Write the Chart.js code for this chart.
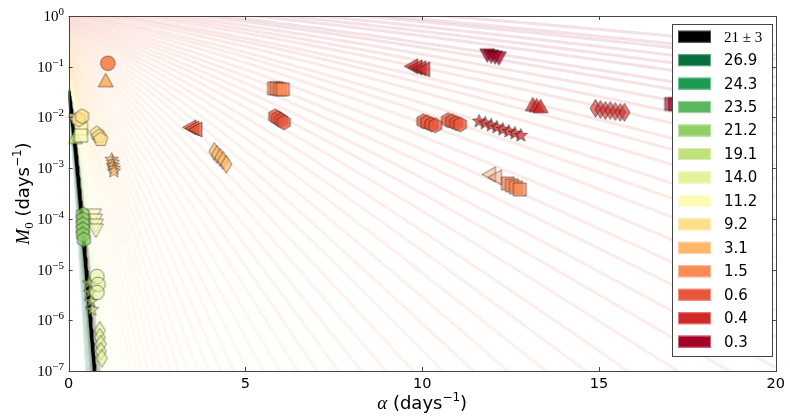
<!DOCTYPE html>
<html>
<head>
<meta charset="utf-8">
<script src="https://cdn.jsdelivr.net/npm/chart.js@4.4.1/dist/chart.umd.min.js"></script>
<style>
  html, body { margin: 0; padding: 0; background: #fff; }
  #wrap { width: 790px; height: 418px; }
</style>
</head>
<body>
<div id="wrap"><canvas id="c" width="790" height="418"></canvas></div>
<script>
// axis ticks
var alphaTicks = [0, 5, 10, 15, 20];
var m0Ticks = [1e-7, 1e-6, 1e-5, 1e-4, 1e-3, 1e-2, 1e-1, 1];

// legend (median lifespan, days) and colours
var legendLabels = ['21 \u00b1 3', '26.9', '24.3', '23.5', '21.2', '19.1', '14.0', '11.2', '9.2', '3.1', '1.5', '0.6', '0.4', '0.3'];
var legendColors = ['#000000', '#08703e', '#1d9a51', '#5ab75f', '#90d067', '#bfe37a', '#e4f39a', '#fffbb7', '#fee08b', '#fdb86a', '#fa8b57', '#e8553b', '#cf2a27', '#a50026'];

// lifespans of the background iso-lines (days)
var isoLifespans = [0.20, 0.22, 0.23, 0.25, 0.27, 0.29, 0.32, 0.34, 0.37, 0.40, 0.43, 0.47, 0.50, 0.54,
    0.59, 0.63, 0.68, 0.74, 0.80, 0.86, 0.93, 1.0, 1.08, 1.17, 1.26, 1.36, 1.47, 1.59, 1.71, 1.85,
    2.0, 2.16, 2.33, 2.52, 2.72, 2.94, 3.17, 3.43, 3.70, 4.0, 4.32, 4.66, 5.04, 5.44, 5.87, 6.34,
    6.85, 7.40, 7.99, 8.63, 9.32, 10.1, 10.9, 11.7, 12.7, 13.7, 14.8, 16.0, 17.3, 18.6, 20.1, 21.8,
    23.5, 25.4, 27.4, 29.6];
var centralLifespan = 21;
var bandLifespans = [18, 19, 20, 22, 23, 24];

// measured groups: [alpha, M0]
var circleA = [[1.11, 0.117]];
var triUpB = [[1.05, 0.054]];
var hexC = [[0.29, 0.0092], [0.38, 0.0105]];
var triDownC = [[0.18, 0.0088], [0.24, 0.0077]];
var squareC = [[0.35, 0.0061], [0.35, 0.0044]];
var triUpC = [[0.18, 0.0041]];
var pentD = [[0.80, 0.00485], [0.86, 0.00424], [0.91, 0.0037]];
var starE = [[1.22, 0.00148], [1.25, 0.0013], [1.25, 0.00113], [1.28, 0.00099], [1.28, 0.000865]];
var triLeftF = [[3.42, 0.0064], [3.50, 0.0061], [3.59, 0.0058]];
var diamG = [[4.12, 0.00214], [4.20, 0.00187], [4.29, 0.00163], [4.37, 0.00143], [4.46, 0.00119]];
var squareH = [[5.81, 0.0375], [5.89, 0.0375], [5.98, 0.0358], [6.06, 0.0358]];
var hexI = [[5.84, 0.0105], [5.92, 0.0096], [6.01, 0.0088], [6.09, 0.0080]];
var triLeftJ = [[9.69, 0.102], [9.81, 0.097], [9.92, 0.093], [10.03, 0.089]];
var triDownK = [[11.84, 0.168], [11.95, 0.160], [12.06, 0.153], [12.17, 0.147]];
var hexL = [[10.03, 0.0084], [10.14, 0.0080], [10.26, 0.0073], [10.37, 0.0070]];
var hexM = [[10.73, 0.0088], [10.85, 0.0084], [10.96, 0.0077], [11.07, 0.0073]];
var starN = [[11.61, 0.0084], [11.78, 0.0077], [11.95, 0.0070], [12.11, 0.0064], [12.28, 0.0058],
    [12.45, 0.0053], [12.62, 0.00485], [12.79, 0.0044]];
var triUpO = [[13.13, 0.0181], [13.24, 0.0173], [13.35, 0.0166]];
var triLeftP = [[11.89, 0.000755], [12.06, 0.00066]];
var squareP = [[12.42, 0.0005], [12.54, 0.000457], [12.65, 0.000417], [12.76, 0.00038]];
var diamQ = [[14.90, 0.0151], [15.04, 0.0144], [15.18, 0.0137], [15.32, 0.0137], [15.46, 0.0131],
    [15.60, 0.0126], [15.72, 0.0126]];
var squareR = [[17.04, 0.0185], [17.15, 0.0181]];
var hexS = [[0.405, 0.000122], [0.405, 0.000098], [0.405, 0.000078], [0.405, 0.000062], [0.405, 0.000049], [0.433, 0.000039]];
var triDownT = [[0.715, 0.000117], [0.743, 0.000093], [0.771, 0.000074], [0.771, 0.000059]];
var circleU = [[0.80, 7.3e-6], [0.83, 5.1e-6], [0.80, 3.55e-6]];
var starU = [[0.574, 5.4e-6], [0.602, 3.55e-6], [0.63, 2.35e-6], [0.659, 1.62e-6]];
var diamV = [[0.884, 6.3e-7], [0.884, 4.6e-7], [0.912, 3.4e-7], [0.912, 2.45e-7], [0.94, 1.78e-7]];

// group -> shape, lifespan colour, fill alpha
var groups = [
    [circleA, 'circle', '1.5', 1], [triUpB, 'triUp', '3.1', 1],
    [hexC, 'hex', '9.2', 0.75], [squareC, 'square', '11.2', 0.75], [triDownC, 'triDown', '11.2', 0.8],
    [triUpC, 'triUp', '19.1', 0.85], [pentD, 'pent', '9.2', 0.75], [starE, 'star', '3.1', 0.55],
    [triLeftF, 'triLeft', '0.6', 0.75], [diamG, 'thinDiam', '3.1', 0.7], [squareH, 'square', '1.5', 0.75],
    [hexI, 'hex', '0.6', 0.75], [triLeftJ, 'triLeft', '0.4', 0.75], [triDownK, 'triDown', '0.3', 0.75],
    [hexL, 'hex', '0.6', 0.75], [hexM, 'hex', '0.6', 0.75], [starN, 'star', '0.4', 0.7],
    [triUpO, 'triUp', '0.4', 0.75], [triLeftP, 'triLeft', '1.5', 0.4], [squareP, 'square', '1.5', 0.75],
    [diamQ, 'thinDiam', '0.4', 0.6], [squareR, 'square', '0.3', 0.6],
    [hexS, 'hex', '21.2', 0.7], [triDownT, 'triDown', '11.2', 0.6], [circleU, 'circle', '14.0', 0.5],
    [starU, 'star', '19.1', 0.6], [diamV, 'thinDiam', '14.0', 0.6]
];

function hexToRgb(h) {
    return [parseInt(h.substr(1, 2), 16), parseInt(h.substr(3, 2), 16), parseInt(h.substr(5, 2), 16)];
}
function rgba(c, a) { return 'rgba(' + c[0] + ',' + c[1] + ',' + c[2] + ',' + a + ')'; }

// colour of a lifespan, interpolated between legend entries
function lifespanColor(T) {
    var keys = legendLabels.slice(1).map(parseFloat).reverse();
    var cols = legendColors.slice(1).reverse().map(hexToRgb);
    if (T <= keys[0]) return cols[0];
    if (T >= keys[keys.length - 1]) return cols[cols.length - 1];
    for (var i = 0; i < keys.length - 1; i++) {
        if (T >= keys[i] && T <= keys[i + 1]) {
            var f = (T - keys[i]) / (keys[i + 1] - keys[i]);
            return [0, 1, 2].map(function (k) { return Math.round(cols[i][k] + f * (cols[i + 1][k] - cols[i][k])); });
        }
    }
}

// Gompertz curve of constant median lifespan T
function isoline(T) {
    var pts = [{ x: 0, y: Math.LN2 / T }];
    var a = 0;
    while (a < 20) {
        a += a < 2 ? 0.01 : 0.05;
        var m = a * Math.LN2 / Math.expm1(a * T);
        pts.push({ x: a, y: m });
        if (m < 1e-8) break;
    }
    return pts;
}

function polygon(ctx, n, r, rot) {
    for (var i = 0; i < n; i++) {
        var t = rot + i * 2 * Math.PI / n;
        var px = r * Math.cos(t), py = r * Math.sin(t);
        if (i === 0) ctx.moveTo(px, py); else ctx.lineTo(px, py);
    }
    ctx.closePath();
}

function markerCanvas(shape, col, fillAlpha) {
    var s = 15, w = s, h = s;
    if (shape === 'thinDiam') { w = 11; h = 18; }
    var c = document.createElement('canvas');
    c.width = Math.ceil(w + 4); c.height = Math.ceil(h + 4);
    var ctx = c.getContext('2d');
    ctx.translate(c.width / 2, c.height / 2);
    ctx.beginPath();
    if (shape === 'circle') ctx.arc(0, 0, 7.3, 0, 2 * Math.PI);
    else if (shape === 'triUp') { ctx.moveTo(0, -7); ctx.lineTo(7.5, 6.5); ctx.lineTo(-7.5, 6.5); ctx.closePath(); }
    else if (shape === 'triDown') { ctx.moveTo(0, 7); ctx.lineTo(7.5, -6.5); ctx.lineTo(-7.5, -6.5); ctx.closePath(); }
    else if (shape === 'triLeft') { ctx.moveTo(-7, 0); ctx.lineTo(6.5, -7.5); ctx.lineTo(6.5, 7.5); ctx.closePath(); }
    else if (shape === 'square') ctx.rect(-6.5, -6.5, 13, 13);
    else if (shape === 'thinDiam') { ctx.moveTo(0, -9); ctx.lineTo(5.5, 0); ctx.lineTo(0, 9); ctx.lineTo(-5.5, 0); ctx.closePath(); }
    else if (shape === 'pent') polygon(ctx, 5, 7.5, -Math.PI / 2);
    else if (shape === 'hex') polygon(ctx, 6, 7.5, -Math.PI / 2);
    else if (shape === 'star') {
        for (var i = 0; i < 10; i++) {
            var r = i % 2 === 0 ? 7 : 3, t = -Math.PI / 2 + i * Math.PI / 5;
            if (i === 0) ctx.moveTo(r * Math.cos(t), r * Math.sin(t)); else ctx.lineTo(r * Math.cos(t), r * Math.sin(t));
        }
        ctx.closePath();
    }
    ctx.fillStyle = rgba(col, fillAlpha);
    ctx.fill();
    ctx.strokeStyle = 'rgba(0,0,0,0.55)';
    ctx.lineWidth = 0.8;
    ctx.stroke();
    return c;
}

var datasets = [];

groups.forEach(function (g) {
    var col = hexToRgb(legendColors[legendLabels.indexOf(g[2])]);
    datasets.push({
        data: g[0].map(function (p) { return { x: p[0], y: p[1] }; }),
        pointStyle: markerCanvas(g[1], col, g[3]),
        pointRadius: 7,
        showLine: false,
        order: 1
    });
});

datasets.push({
    data: isoline(centralLifespan), showLine: true, pointRadius: 0,
    borderColor: '#000', borderWidth: 3.5, order: 4
});
bandLifespans.forEach(function (T) {
    datasets.push({
        data: isoline(T), showLine: true, pointRadius: 0,
        borderColor: 'rgba(0,0,0,0.13)', borderWidth: 3, order: 5
    });
});
isoLifespans.forEach(function (T) {
    datasets.push({
        data: isoline(T), showLine: true, pointRadius: 0,
        borderColor: rgba(lifespanColor(T), 0.12), borderWidth: 3, order: 10
    });
});

function drawRuns(ctx, runs, x, y, align) {
    var total = 0;
    runs.forEach(function (r) { ctx.font = r.font; r.w = ctx.measureText(r.text).width; total += r.w; });
    var cx = align === 'center' ? x - total / 2 : x - total;
    runs.forEach(function (r) {
        ctx.font = r.font;
        ctx.fillText(r.text, cx, y + (r.dy || 0));
        cx += r.w;
    });
}

var decorPlugin = {
    id: 'decor',
    afterDatasetsDraw: function (chart) {
        var ctx = chart.ctx, a = chart.chartArea, xs = chart.scales.x, ys = chart.scales.y;
        ctx.save();
        ctx.strokeStyle = '#444';
        ctx.lineWidth = 1;
        // inward ticks
        alphaTicks.forEach(function (v) {
            var px = Math.round(xs.getPixelForValue(v)) + 0.5;
            ctx.beginPath();
            ctx.moveTo(px, a.bottom); ctx.lineTo(px, a.bottom - 4);
            ctx.moveTo(px, a.top); ctx.lineTo(px, a.top + 4);
            ctx.stroke();
        });
        m0Ticks.forEach(function (v) {
            var py = Math.round(ys.getPixelForValue(v)) + 0.5;
            ctx.beginPath();
            ctx.moveTo(a.left, py); ctx.lineTo(a.left + 4, py);
            ctx.moveTo(a.right, py); ctx.lineTo(a.right - 4, py);
            ctx.stroke();
        });
        ctx.strokeRect(Math.round(a.left) + 0.5, Math.round(a.top) + 0.5,
            Math.round(a.right - a.left), Math.round(a.bottom - a.top));

        // y tick labels 10^n
        ctx.fillStyle = '#000';
        ctx.textBaseline = 'alphabetic';
        m0Ticks.forEach(function (v) {
            var py = ys.getPixelForValue(v);
            var e = Math.round(Math.log10(v));
            drawRuns(ctx, [
                { text: '10', font: '15px "Liberation Serif"', dy: 5 },
                { text: e === 0 ? '0' : '\u2212' + (-e), font: '11px "Liberation Serif"', dy: -1 }
            ], 64, py, 'right');
        });

        // legend
        var lx = 672, ly = 24, lw = 100, lh = 332;
        ctx.fillStyle = '#fff';
        ctx.fillRect(lx, ly, lw, lh);
        ctx.strokeStyle = '#444';
        ctx.strokeRect(lx + 0.5, ly + 0.5, lw, lh);
        legendLabels.forEach(function (lab, i) {
            var cy = 36.7 + i * 23.46;
            var col = hexToRgb(legendColors[i]);
            ctx.fillStyle = rgba(col, 1);
            ctx.fillRect(678, cy - 6, 33, 12);
            ctx.strokeStyle = i === 0 ? 'rgba(90,90,90,0.8)' : rgba(col.map(function (c) { return Math.round(c + (255 - c) * 0.4); }), 1);
            ctx.lineWidth = 1;
            ctx.strokeRect(678.5, cy - 5.5, 32, 11);
            ctx.fillStyle = '#000';
            ctx.textBaseline = 'middle';
            ctx.textAlign = 'left';
            ctx.font = i === 0 ? '15px "Liberation Serif"' : '15px "DejaVu Sans"';
            ctx.fillText(lab, 724, cy + 1);
        });
        ctx.textBaseline = 'alphabetic';

        // axis titles
        ctx.fillStyle = '#000';
        drawRuns(ctx, [
            { text: '\u03b1', font: 'italic 19px "Liberation Serif"' },
            { text: ' (days', font: '18px "DejaVu Sans"' },
            { text: '\u22121', font: '12px "DejaVu Sans"', dy: -8 },
            { text: ')', font: '18px "DejaVu Sans"' }
        ], (a.left + a.right) / 2, 409, 'center');

        ctx.translate(29, (a.top + a.bottom) / 2);
        ctx.rotate(-Math.PI / 2);
        drawRuns(ctx, [
            { text: 'M', font: 'italic 19px "Liberation Serif"' },
            { text: '0', font: '13px "Liberation Serif"', dy: 4 },
            { text: ' (days', font: '18px "DejaVu Sans"' },
            { text: '\u22121', font: '12px "DejaVu Sans"', dy: -8 },
            { text: ')', font: '18px "DejaVu Sans"' }
        ], 0, 0, 'center');
        ctx.restore();
    }
};

new Chart(document.getElementById('c'), {
    type: 'scatter',
    data: { datasets: datasets },
    options: {
        responsive: false,
        devicePixelRatio: 1,
        animation: false,
        events: [],
        layout: { padding: { left: 0, right: 11, top: 16, bottom: 0 } },
        plugins: { legend: { display: false }, tooltip: { enabled: false } },
        scales: {
            x: {
                type: 'linear', min: 0, max: 20,
                afterBuildTicks: function (s) { s.ticks = alphaTicks.map(function (v) { return { value: v }; }); },
                afterFit: function (s) { s.height = 47; },
                grid: { display: false, drawTicks: false },
                border: { display: false },
                ticks: { font: { family: 'DejaVu Sans', size: 14.5 }, color: '#000', padding: 5, maxRotation: 0 }
            },
            y: {
                type: 'logarithmic', min: 1e-7, max: 1,
                afterBuildTicks: function (s) { s.ticks = m0Ticks.map(function (v) { return { value: v }; }); },
                afterFit: function (s) { s.width = 68.6; },
                grid: { display: false, drawTicks: false },
                border: { display: false },
                ticks: { display: false }
            }
        }
    },
    plugins: [decorPlugin]
});
</script>
</body>
</html>
